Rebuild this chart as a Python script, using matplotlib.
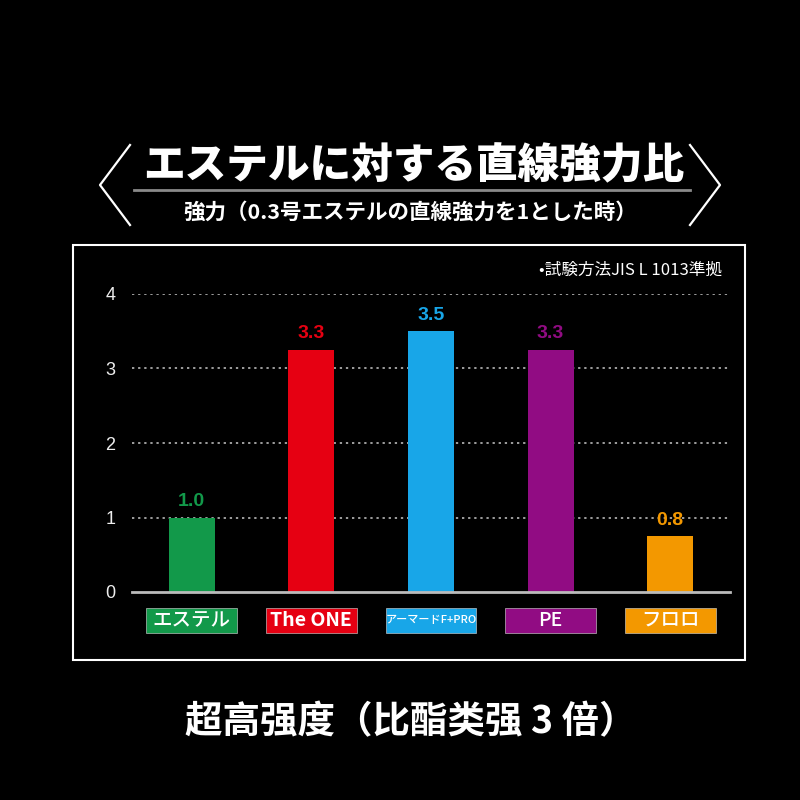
import matplotlib.pyplot as plt
from matplotlib.patches import Rectangle
from matplotlib.lines import Line2D
import matplotlib.transforms as mtransforms

plt.rcParams['font.family'] = ['Noto Sans CJK JP', 'DejaVu Sans']

categories = ['エステル', 'The ONE', 'アーマードF+PRO', 'PE', 'フロロ']
values = [1.0, 3.25, 3.5, 3.25, 0.75]
value_labels = ['1.0', '3.3', '3.5', '3.3', '0.8']
colors = ['#12994a', '#e60012', '#18a6e8', '#910c83', '#f39800']
yticks = [0, 1, 2, 3, 4]

title = 'エステルに対する直線強力比'
subtitle = '強力（0.3号エステルの直線強力を1とした時）'
note = '•試験方法JIS L 1013準拠'
caption = '超高强度（比酯类强 3 倍）'

fig = plt.figure(figsize=(8, 8), dpi=100, facecolor='black')

# pixel helper (top-left origin) -> figure fraction
def px(x, y):
    return x / 800, 1 - y / 800

# outer frame
x0, y0 = px(73, 660)
x1, y1 = px(745, 245)
fig.patches.append(Rectangle((x0, y0), x1 - x0, y1 - y0, transform=fig.transFigure,
                             fill=False, edgecolor='white', linewidth=1.5))

# title area
fig.text(*px(414, 166), title, color='white', fontsize=30, fontweight='black',
         ha='center', va='center')
fig.add_artist(Line2D([134 / 800, 690 / 800], [1 - 190 / 800] * 2, color='#8a8a8a',
                      linewidth=2, transform=fig.transFigure))
fig.text(*px(410, 212), subtitle, color='white', fontsize=15.5, fontweight='semibold',
         ha='center', va='center')
for xs in ([130, 100, 130], [690, 720, 690]):
    fig.add_artist(Line2D([x / 800 for x in xs], [1 - y / 800 for y in (145, 185, 225)],
                          color='white', linewidth=1.6, transform=fig.transFigure))

fig.text(*px(722, 270), note, color='white', fontsize=12, ha='right', va='center')

# chart axes
ax = fig.add_axes([132 / 800, 208 / 800, 598 / 800, 298 / 800])
ax.set_facecolor('black')
ax.set_xlim(-0.5, 4.5)
ax.set_ylim(0, 4)

for v in yticks[1:]:
    ax.axhline(v, color='#c8c8c8', linestyle=(0, (1.5, 2.5)), linewidth=1.1, zorder=1)

xpos = list(range(len(categories)))
ax.bar(xpos, values, width=0.385, color=colors, zorder=2)
for x, v, lab, c in zip(xpos, values, value_labels, colors):
    ax.text(x, v + 0.1, lab, color=c, fontsize=14, fontweight='bold',
            ha='center', va='bottom', family=['Liberation Sans', 'DejaVu Sans'])

for s in ['top', 'right', 'left']:
    ax.spines[s].set_visible(False)
ax.spines['bottom'].set_color('#bbbbbb')
ax.spines['bottom'].set_linewidth(2)
ax.set_xticks([])
ax.set_yticks(yticks)
ax.set_yticklabels([str(t) for t in yticks], family=['Liberation Sans', 'DejaVu Sans'])
ax.tick_params(axis='y', length=0, colors='#eeeeee', labelsize=13, pad=12)

# category label boxes
trans = mtransforms.blended_transform_factory(ax.transData, ax.transAxes)
bw = 0.76
for x, cat, c in zip(xpos, categories, colors):
    ax.add_patch(Rectangle((x - bw / 2, -41 / 298), bw, 25 / 298, transform=trans,
                           facecolor=c, edgecolor='#dddddd', linewidth=0.4, clip_on=False))
    fs = 14 if len(cat) < 8 else 8
    ax.text(x, -28.5 / 298, cat, transform=trans, color='white', fontsize=fs,
            fontweight='bold' if cat == 'The ONE' else 'medium',
            ha='center', va='center', clip_on=False)

fig.text(*px(411, 722), caption, color='white', fontsize=27, fontweight='bold',
         ha='center', va='center', family=['Noto Sans CJK SC', 'DejaVu Sans'])

fig.savefig('out.png', dpi=100, facecolor='black')
